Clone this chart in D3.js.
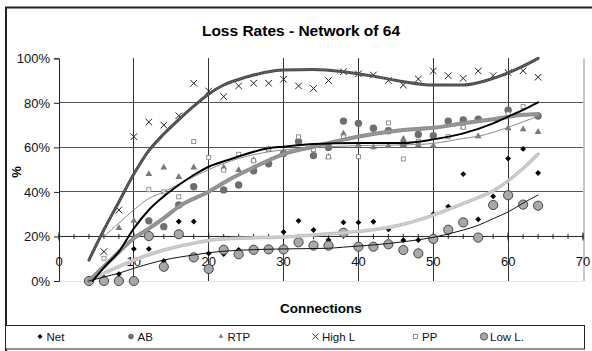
<!DOCTYPE html>
<html>
<head>
<meta charset="utf-8">
<script src="https://cdn.jsdelivr.net/npm/d3@7"></script>
<style>
  html, body { margin: 0; padding: 0; background: #fff; }
  svg { display: block; font-family: "Liberation Sans", Arial, sans-serif; }
</style>
</head>
<body>
<script>
// connections (x) shared by all series, null = not visible in the original
const connections = [4, 6, 8, 10, 12, 14, 16, 18, 20, 22, 24, 26, 28, 30, 32, 34, 36, 38, 40, 42, 44, 46, 48, 50, 52, 54, 56, 58, 60, 62, 64]

const net   = [0, 1.6, 3.1, 14.4, 14.4, 9, 26.7, 26.7, 12.4, 12.1, 14, 14.5, 14.5, 22, 27, 22.9, 18.4, 26.3, 26.3, 26.6, 23.2, 18.3, 18.4, 30, 33.4, 48, 27.7, 38, 55, 59.3, 48.5]
const ab    = [0, null, null, null, 27, 24.4, 34.1, 42.3, null, 40.9, 43.1, 49.5, 52.6, 57.3, 62.6, 56.3, 60, 71.8, 70.8, 68.6, 67.5, 61.4, 65.8, 65.2, 71.8, 72.3, 72.7, null, 76.7, null, 74.1]
const rtp   = [null, null, 23.8, 27, 48, 51, 46.7, 51, null, 51, 49.8, 54.3, 59, 58, null, null, 55.8, 66.2, 61.2, 60, 60.7, 63.8, 61, 60.8, null, 69.3, 65, null, 68.6, 68.1, 66.9]
const highL = [null, 13.2, 31.9, 64.8, 71.4, 70, 74.2, 88.8, 85.3, 82.8, 87.6, 88.8, 88.8, 90.6, 87.6, 86.4, 90, 94, 93, 92.5, 90, 88, 90.7, 94.3, 92.2, 91, 94.3, 92.2, 93.5, 94.4, 91.5]
const pp    = [0, 10.2, null, null, 41, 40, 37.8, 62.6, 55.5, 49.8, 56.9, 54, 59.3, null, 64.7, 59, 55.7, 64.7, 55.8, null, 71, 54.8, 62.7, null, 64.8, 69, null, null, 75, 78.3, null]
const lowL  = [0, 0, 0, 0, 20.2, 6.4, 21, 10.6, 5.4, 14, 12, 14, 14.2, 14.2, 17.4, 15.9, 15.9, 21.7, 15.4, 15.4, 16.5, 13.9, 12.4, 18.9, 23, 26.3, 19.5, 34.1, 38.5, 34.3, 33.8]

// trend lines as [connections, %]
const netTrend   = [[4, 0], [6, 3.5], [8, 6.5], [10, 9.4], [12, 11.8], [14, 13.9], [16, 15.6], [18, 17], [20, 18.2], [24, 19.2], [30, 19.8], [34, 20.7], [38, 21.7], [42, 23], [46, 25.5], [50, 29.6], [54, 34.9], [58, 40.5], [60, 45], [62, 50.5], [64, 57]]
const abTrend    = [[4, 0], [6, 6.5], [8, 13], [10, 19.2], [12, 23.5], [14, 28.2], [16, 33.4], [20, 40.1], [23, 46], [26, 51], [30, 57], [34, 60.3], [38, 63.5], [42, 66], [46, 67.8], [50, 68.8], [54, 70.8], [58, 72.6], [62, 74.6], [64, 75]]
const rtpTrend   = [[6, 20], [8, 26], [10, 32], [12, 37], [14, 40], [16, 43.5], [18, 46.8], [20, 50], [22, 52.8], [24, 55], [28, 58], [32, 59.5], [36, 60.3], [40, 60.8], [44, 61], [48, 61.3], [50, 61.8], [54, 64], [56, 65], [60, 69], [62, 71.5], [64, 74]]
const highLTrend = [[4, 9.4], [6, 23], [8, 35.5], [10, 48], [12, 58.5], [14, 66], [16, 72.5], [18, 78.5], [20, 84], [22, 88], [24, 90.5], [26, 92.5], [28, 94], [30, 94.7], [34, 95], [38, 94], [42, 92], [46, 89.5], [50, 88], [54, 88], [58, 91], [60, 93.5], [62, 96.5], [64, 100]]
const ppTrend    = [[4.5, 0], [6, 6], [8, 13.2], [10, 23.6], [12, 31.9], [14, 38], [16, 43.1], [18, 47.6], [20, 51.3], [23, 54.8], [28, 59.6], [30, 60.3], [34, 61.5], [40, 62], [46, 62], [50, 63.6], [54, 66.3], [58, 70.8], [60, 73.8], [62, 76.8], [64, 80.2]]
const lowLTrend  = [[4, 0], [6, 1.8], [8, 3.5], [10, 5.7], [14, 9.4], [18, 11.7], [20, 12.7], [24, 13.8], [30, 14.4], [36, 14.7], [38, 15.2], [42, 16.2], [46, 17.6], [50, 19.6], [54, 22.9], [56, 25], [58, 28], [60, 31], [62, 35], [64, 38.6]]

const xTicks = [0, 10, 20, 30, 40, 50, 60, 70]
const yTicks = [0, 20, 40, 60, 80, 100]
const legendLabels = ['Net', 'AB', 'RTP', 'High L', 'PP', 'Low L.']

const W = 592, H = 351
const x = d3.scaleLinear().domain([0, 70]).range([59, 583])
const y = d3.scaleLinear().domain([0, 100]).range([281, 58.3])

const svg = d3.select('body').append('svg').attr('width', W).attr('height', H)

// outer frame
svg.append('path').attr('d', `M6,${H + 2}V7.5H${W + 2}`).attr('fill', 'none').attr('stroke', '#222').attr('stroke-width', 2)

svg.append('text').attr('x', 301).attr('y', 36).attr('text-anchor', 'middle')
    .attr('font-size', 15.5).attr('font-weight', 'bold').text('Loss Rates - Network of 64')

// plot area border (light)
svg.append('line').attr('x1', x(70) + 1).attr('x2', x(70) + 1).attr('y1', y(100)).attr('y2', y(0))
    .attr('stroke', '#c8c8c8').attr('stroke-width', 2)
svg.append('line').attr('x1', x(0)).attr('x2', x(70)).attr('y1', y(0) + 0.5).attr('y2', y(0) + 0.5)
    .attr('stroke', '#e6e6e6').attr('stroke-width', 1)

// gridlines
const grid = svg.append('g').attr('stroke', '#333').attr('stroke-width', 1).attr('shape-rendering', 'crispEdges')
grid.selectAll('.v').data(xTicks.filter(d => d > 0 && d < 70)).join('line')
    .attr('x1', d => x(d)).attr('x2', d => x(d)).attr('y1', y(100)).attr('y2', y(0))
grid.selectAll('.h').data([40, 60, 80]).join('line')
    .attr('x1', x(0)).attr('x2', x(70)).attr('y1', d => y(d)).attr('y2', d => y(d))
    .attr('stroke', '#555')

// y axis
const yAxis = svg.append('g').attr('transform', `translate(${x(0)},0)`)
    .call(d3.axisLeft(y).tickValues(yTicks).tickFormat(d => d + '%').tickSize(5).tickPadding(4))
yAxis.select('.domain').attr('stroke', '#222')
yAxis.selectAll('line').attr('stroke', '#222')
yAxis.selectAll('text').attr('font-size', 13).attr('font-family', '"Liberation Sans", Arial, sans-serif').attr('fill', '#111')

svg.append('text').attr('transform', 'translate(21,172) rotate(-90)').attr('text-anchor', 'middle')
    .attr('font-size', 13).attr('font-weight', 'bold').text('%')

// x axis crossing at 20%
const xAxis = svg.append('g').attr('transform', `translate(0,${y(20)})`)
xAxis.append('line').attr('x1', x(0)).attr('x2', x(70)).attr('stroke', '#222')
xAxis.selectAll('.minor').data(d3.range(0, 71, 2)).join('line')
    .attr('x1', d => x(d)).attr('x2', d => x(d)).attr('y1', -2.5).attr('y2', 2.5).attr('stroke', '#222')
xAxis.selectAll('.major').data(xTicks).join('line')
    .attr('x1', d => x(d)).attr('x2', d => x(d)).attr('y1', -4).attr('y2', 4).attr('stroke', '#222')
xAxis.selectAll('text').data(xTicks).join('text')
    .attr('x', d => x(d)).attr('y', 30).attr('text-anchor', 'middle').attr('font-size', 13).attr('fill', '#111')
    .text(d => d)

svg.append('text').attr('x', 321).attr('y', 312.5).attr('text-anchor', 'middle')
    .attr('font-size', 13.5).attr('font-weight', 'bold').text('Connections')

// markers
const marks = {
    Net: g => g.append('path').attr('d', d3.symbol(d3.symbolSquare, 17)()).attr('transform', 'rotate(45)').attr('fill', '#000'),
    AB: g => g.append('circle').attr('r', 3.7).attr('fill', '#6e6e6e'),
    RTP: g => g.append('path').attr('d', d3.symbol(d3.symbolTriangle, 20)()).attr('fill', '#7a7a7a'),
    'High L': g => g.append('path').attr('d', 'M-3.3,-3.3L3.3,3.3M-3.3,3.3L3.3,-3.3').attr('stroke', '#222').attr('stroke-width', 1).attr('fill', 'none'),
    PP: g => g.append('rect').attr('x', -2).attr('y', -2).attr('width', 4).attr('height', 4).attr('fill', '#fff').attr('stroke', '#888').attr('stroke-width', 0.9),
    'Low L.': g => g.append('circle').attr('r', 4.6).attr('fill', '#a8a8a8').attr('stroke', '#444').attr('stroke-width', 1)
}

const series = [
    {name: 'Net', values: net},
    {name: 'AB', values: ab},
    {name: 'RTP', values: rtp},
    {name: 'High L', values: highL},
    {name: 'PP', values: pp},
    {name: 'Low L.', values: lowL}
]

series.forEach(s => {
    const pts = connections.map((c, i) => [c, s.values[i]]).filter(d => d[1] !== null)
    svg.append('g').selectAll('g').data(pts).join('g')
        .attr('transform', d => `translate(${x(d[0])},${y(d[1])})`)
        .each(function () { marks[s.name](d3.select(this)) })
})

// trend lines
const line = d3.line().x(d => x(d[0])).y(d => y(d[1])).curve(d3.curveMonotoneX)
const trends = [
    {data: netTrend, color: '#c4c4c4', width: 3.5, tex: '#ececec'},
    {data: abTrend, color: '#8e8e8e', width: 4, tex: '#b8b8b8'},
    {data: rtpTrend, color: '#8a8a8a', width: 1},
    {data: highLTrend, color: '#4a4a4a', width: 3, tex: '#8a8a8a'},
    {data: ppTrend, color: '#000', width: 2},
    {data: lowLTrend, color: '#111', width: 1}
]
trends.forEach(t => {
    svg.append('path').attr('d', line(t.data)).attr('fill', 'none')
        .attr('stroke', t.color).attr('stroke-width', t.width).attr('stroke-linecap', 'round')
    if (t.tex) {
        svg.append('path').attr('d', line(t.data)).attr('fill', 'none')
            .attr('stroke', t.tex).attr('stroke-width', 1).attr('stroke-dasharray', '1,2')
    }
})

// legend
svg.append('rect').attr('x', 5.5).attr('y', 325.5).attr('width', 579).attr('height', 23.5)
    .attr('fill', '#fff').attr('stroke', '#222').attr('stroke-width', 1)
const legendX = [40, 131, 221, 315.5, 415.5, 484]
const legendMarkScale = {'Net': 0.85, 'AB': 0.75, 'RTP': 0.7, 'High L': 0.9, 'PP': 1, 'Low L.': 0.8}
legendLabels.forEach((name, i) => {
    const g = svg.append('g').attr('transform', `translate(${legendX[i]},336.5) scale(${legendMarkScale[name]})`)
    marks[name](g)
    svg.append('text').attr('x', legendX[i] + (name === 'Low L.' ? 6 : 6.5)).attr('y', 340.5)
        .attr('font-size', 11.5).attr('fill', '#111').text(name)
})
</script>
</body>
</html>
